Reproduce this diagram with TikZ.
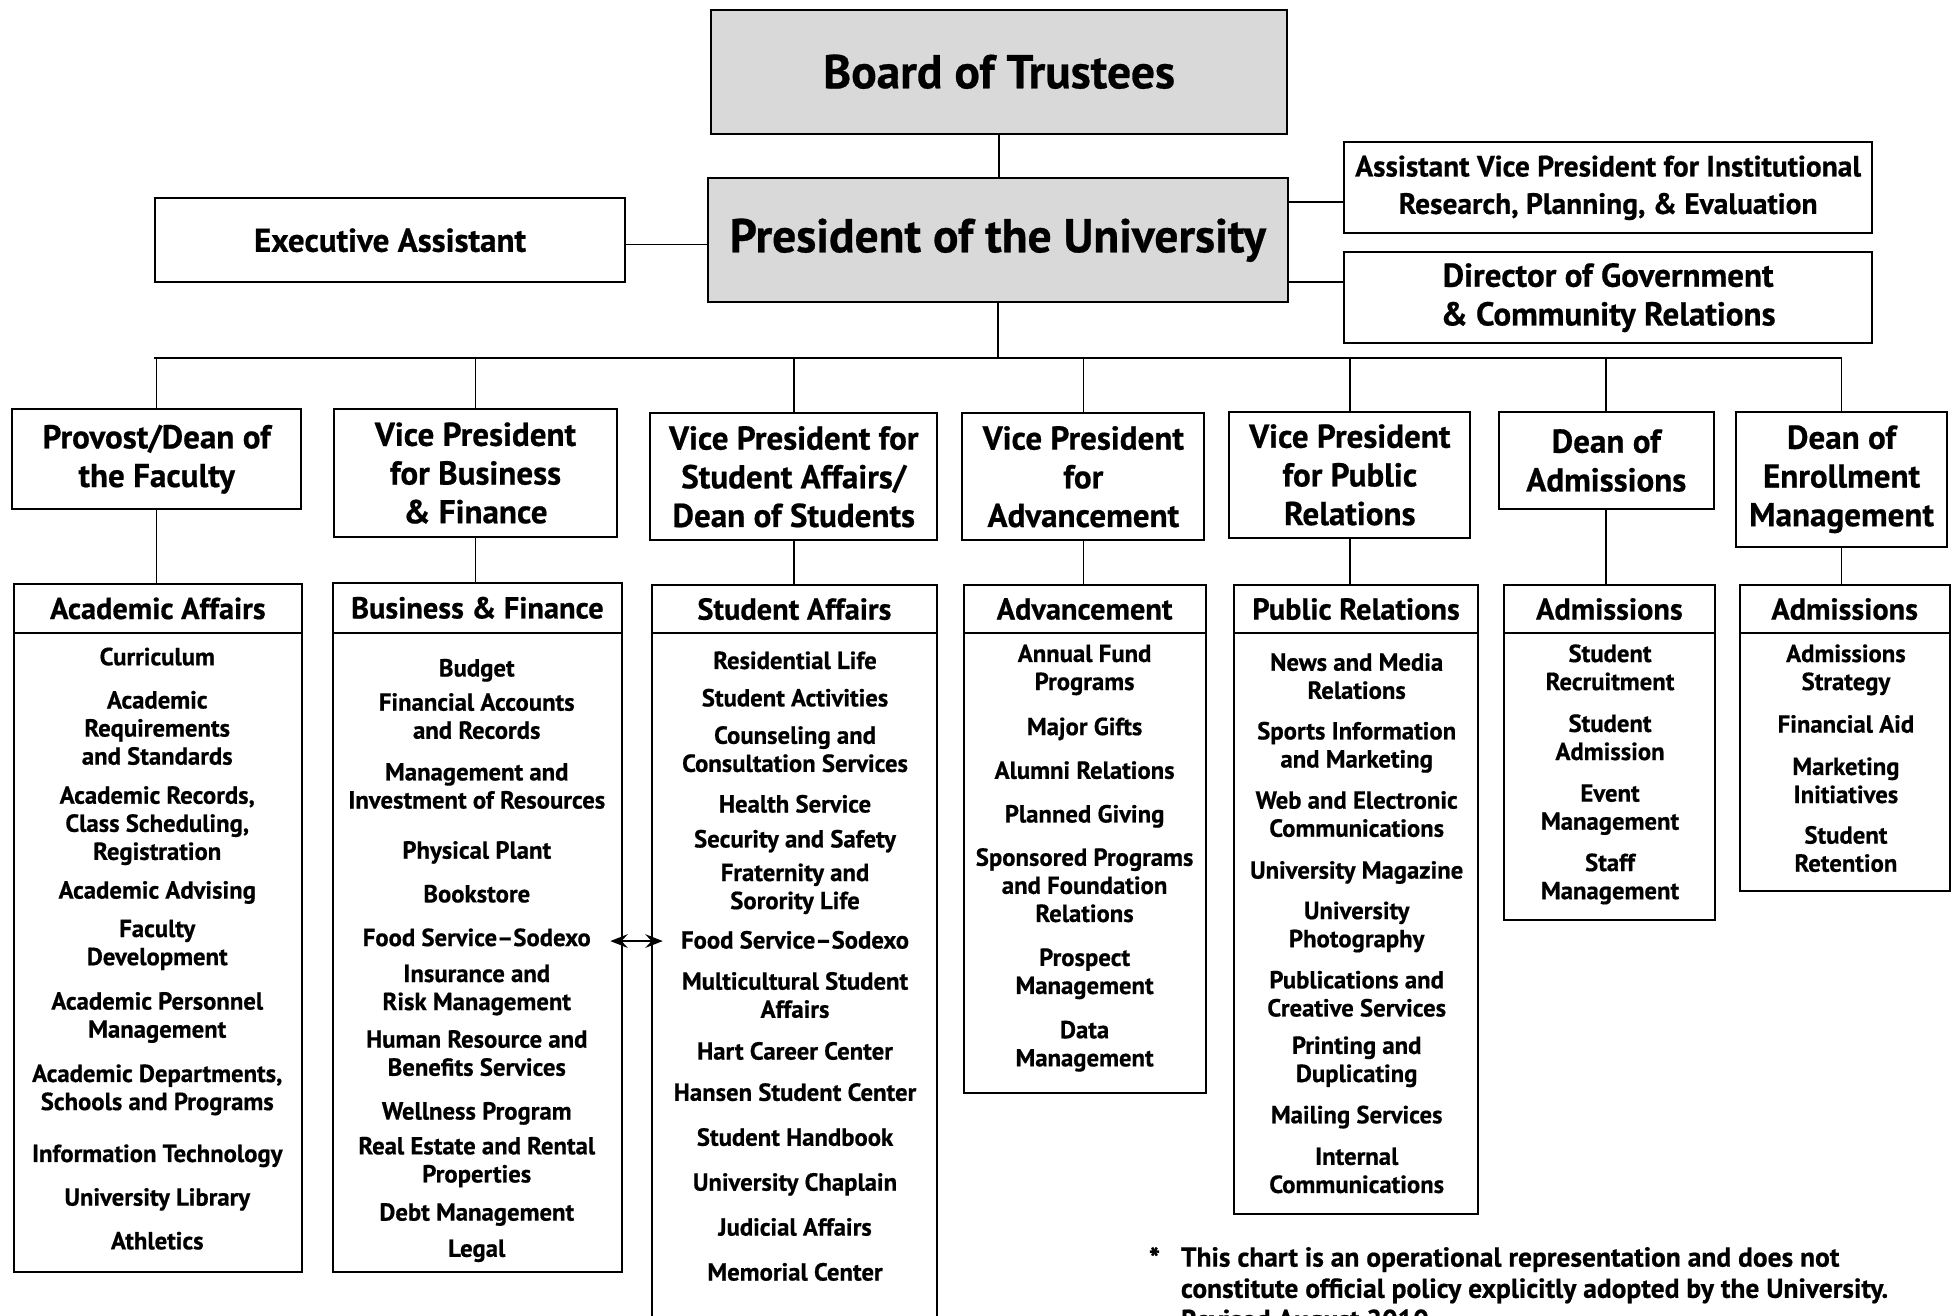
\documentclass[tikz,border=0pt]{standalone}
\usepackage{fontspec}
\setmainfont{PT Sans}[BoldFeatures={FakeBold=0.6}]
\usetikzlibrary{arrows.meta}
\definecolor{boxgray}{HTML}{D9D9D9}
\newcommand\itm[4]{\node[item] (#1) at (#2,#3) {#4};}
\begin{document}
\begin{tikzpicture}[x=1pt,y=-1pt,
  box/.style={draw, line width=1.6pt, inner sep=0pt, fill=white, align=center},
  gbox/.style={box, fill=boxgray},
  conn/.style={line width=1.3pt},
  bus/.style={line width=1.8pt},
  item/.style={font=\fontsize{19.8}{22.5}\selectfont\bfseries, align=center, inner sep=0pt, yshift=-2.5pt,
     execute at begin node=\strut, execute at end node=\strut},
  bigf/.style={font=\fontsize{38}{40}\selectfont\bfseries},
  topf/.style={font=\fontsize{26.5}{31}\selectfont\bfseries},
  headf/.style={font=\fontsize{24.3}{28}\selectfont\bfseries},
  dbl/.style={line width=1.4pt, {Stealth[length=14pt,width=11pt,inset=5pt]}-{Stealth[length=14pt,width=11pt,inset=5pt]}}
]
\useasboundingbox[fill=white] (0,0) rectangle (1568,1054);

% top
\node[gbox, bigf, minimum width=461pt, minimum height=99pt] (board) at (800.5,57.5) {Board of Trustees};
\node[gbox, bigf, minimum width=465pt, minimum height=99pt] (pres) at (799.5,192.5) {President of the University};
\node[box, font=\fontsize{26.5}{31}\selectfont\bfseries, minimum width=377pt, minimum height=67pt] (exec) at (312.5,192.5) {Executive Assistant};
\node[box, font=\fontsize{23.6}{30}\selectfont\bfseries, minimum width=423pt, minimum height=73pt] (avp) at (1288.5,150.5) {Assistant Vice President for Institutional\\Research, Planning, \& Evaluation};
\node[box, font=\fontsize{26.5}{31}\selectfont\bfseries, minimum width=423pt, minimum height=73pt] (dir) at (1288.5,238.5) {Director of Government\\\& Community Relations};

\draw[conn] (board.south) -- (board.south |- pres.north);
\draw[conn] ([yshift=-3.5pt]exec.east) -- ([yshift=-3.5pt]exec.east -| pres.west);
\draw[conn] ([yshift=-11.5pt]avp.west) -- ([yshift=-11.5pt]avp.west -| pres.east);
\draw[conn] ([yshift=12.5pt]dir.west) -- ([yshift=12.5pt]dir.west -| pres.east);

\coordinate (busL) at (123,287);
\coordinate (busR) at (1476,287);
\draw[conn] (pres.south) -- (pres.south |- busL);
\draw[bus] (busL) -- (busR);

% second level
\node[box, topf, minimum width=231pt, minimum height=80pt] (t1) at (125.5,368) {Provost/Dean of\\the Faculty};
\node[box, topf, minimum width=226pt, minimum height=102pt] (t2) at (381,379) {Vice President\\for Business\\\& Finance};
\node[box, topf, minimum width=230pt, minimum height=102pt] (t3) at (636,382) {Vice President for\\Student Affairs/\\Dean of Students};
\node[box, topf, minimum width=194pt, minimum height=102pt] (t4) at (868,382) {Vice President\\for\\Advancement};
\node[box, topf, minimum width=193pt, minimum height=101pt] (t5) at (1081.5,380.5) {Vice President\\for Public\\Relations};
\node[box, topf, minimum width=172pt, minimum height=78pt] (t6) at (1287,369) {Dean of\\Admissions};
\node[box, topf, minimum width=169pt, minimum height=108pt] (t7) at (1475.5,384) {Dean of\\Enrollment\\Management};

\foreach \t in {t1,t2,t3,t4,t5,t6,t7}{\draw[conn] (\t.north |- busL) -- (\t.north);}

% third level boxes
\node[box, minimum width=231pt, minimum height=512pt] (b1) at (126.5,763) {};
\node[box, minimum width=231pt, minimum height=512pt] (b2) at (382.5,763) {};
\node[box, minimum width=229pt, minimum height=563pt] (b3) at (636.5,788.5) {};
\node[box, minimum width=194pt, minimum height=369pt] (b4) at (869,691.5) {};
\node[box, minimum width=195pt, minimum height=466pt] (b5) at (1086.5,740) {};
\node[box, minimum width=169pt, minimum height=230pt] (b6) at (1289.5,622) {};
\node[box, minimum width=168pt, minimum height=207pt] (b7) at (1478,610.5) {};

\node[box, headf, minimum width=231pt, minimum height=39pt] (h1) at (126.5,487.5) {Academic Affairs};
\node[box, headf, minimum width=231pt, minimum height=40pt] (h2) at (382.5,487) {Business \& Finance};
\node[box, headf, minimum width=229pt, minimum height=38pt] (h3) at (636.5,488) {Student Affairs};
\node[box, headf, minimum width=194pt, minimum height=38pt] (h4) at (869,488) {Advancement};
\node[box, headf, minimum width=195pt, minimum height=38pt] (h5) at (1086.5,488) {Public Relations};
\node[box, headf, minimum width=169pt, minimum height=38pt] (h6) at (1289.5,488) {Admissions};
\node[box, headf, minimum width=168pt, minimum height=38pt] (h7) at (1478,488) {Admissions};

\foreach \i in {1,...,7}{\draw[conn] (t\i.south) -- (t\i.south |- h\i.north);}

% Academic Affairs
\itm{aa1}{126}{526}{Curriculum}
\itm{aa2}{126}{584}{Academic\\Requirements\\and Standards}
\itm{aa3}{126}{660.3}{Academic Records,\\Class Scheduling,\\Registration}
\itm{aa4}{126}{713}{Academic Advising}
\itm{aa5}{126}{756}{Faculty\\Development}
\itm{aa6}{126}{814}{Academic Personnel\\Management}
\itm{aa7}{126}{872}{Academic Departments,\\Schools and Programs}
\itm{aa8}{126}{924}{Information Technology}
\itm{aa9}{126}{959}{University Library}
\itm{aa10}{126}{994}{Athletics}

% Business & Finance
\itm{bf1}{382}{535}{Budget}
\itm{bf2}{382}{574.5}{Financial Accounts\\and Records}
\itm{bf3}{382}{630.5}{Management and\\Investment of Resources}
\itm{bf4}{382}{681}{Physical Plant}
\itm{bf5}{382}{716}{Bookstore}
\itm{bf6}{382}{751}{Food Service–Sodexo}
\itm{bf7}{382}{792}{Insurance and\\Risk Management}
\itm{bf8}{382}{844.5}{Human Resource and\\Benefits Services}
\itm{bf9}{382}{890}{Wellness Program}
\itm{bf10}{382}{930}{Real Estate and Rental\\Properties}
\itm{bf11}{382}{971}{Debt Management}
\itm{bf12}{382}{1000}{Legal}

% Student Affairs
\itm{sa1}{637}{529}{Residential Life}
\itm{sa2}{637}{559}{Student Activities}
\itm{sa3}{637}{601}{Counseling and\\Consultation Services}
\itm{sa4}{637}{644}{Health Service}
\itm{sa5}{637}{672}{Security and Safety}
\itm{sa6}{637}{711}{Fraternity and\\Sorority Life}
\itm{sa7}{637}{753}{Food Service–Sodexo}
\itm{sa8}{637}{798}{Multicultural Student\\Affairs}
\itm{sa9}{637}{842}{Hart Career Center}
\itm{sa10}{637}{875}{Hansen Student Center}
\itm{sa11}{637}{911}{Student Handbook}
\itm{sa12}{637}{947}{University Chaplain}
\itm{sa13}{637}{983}{Judicial Affairs}
\itm{sa14}{637}{1019}{Memorial Center}

% Advancement
\itm{ad1}{869}{535.5}{Annual Fund\\Programs}
\itm{ad2}{869}{582}{Major Gifts}
\itm{ad3}{869}{617}{Alumni Relations}
\itm{ad4}{869}{652}{Planned Giving}
\itm{ad5}{869}{710}{Sponsored Programs\\and Foundation\\Relations}
\itm{ad6}{869}{779}{Prospect\\Management}
\itm{ad7}{869}{837}{Data\\Management}

% Public Relations
\itm{pr1}{1087}{542.5}{News and Media\\Relations}
\itm{pr2}{1087}{597.5}{Sports Information\\and Marketing}
\itm{pr3}{1087}{653}{Web and Electronic\\Communications}
\itm{pr4}{1087}{697}{University Magazine}
\itm{pr5}{1087}{741.5}{University\\Photography}
\itm{pr6}{1087}{797}{Publications and\\Creative Services}
\itm{pr7}{1087}{849.5}{Printing and\\Duplicating}
\itm{pr8}{1087}{893}{Mailing Services}
\itm{pr9}{1087}{938.5}{Internal\\Communications}

% Admissions
\itm{am1}{1290}{535.5}{Student\\Recruitment}
\itm{am2}{1290}{591.5}{Student\\Admission}
\itm{am3}{1290}{647.5}{Event\\Management}
\itm{am4}{1290}{703}{Staff\\Management}

% Admissions (enrollment)
\itm{en1}{1479}{535.5}{Admissions\\Strategy}
\itm{en2}{1479}{580}{Financial Aid}
\itm{en3}{1479}{626}{Marketing\\Initiatives}
\itm{en4}{1479}{681}{Student\\Retention}

% food service link
\coordinate (arL) at (489,754);
\coordinate (arR) at (531,754);
\draw[dbl] (arL) -- (arR);

% footnote
\node[font=\fontsize{24}{25}\selectfont\bfseries, inner sep=0pt] (star) at (925,1008) {*};
\node[font=\fontsize{22}{25}\selectfont\bfseries, align=left, anchor=north west, inner sep=0pt,
  execute at begin node=\strut] (fn) at (946,999)
  {This chart is an operational representation and does not\\constitute official policy explicitly adopted by the University.\\Revised August 2010};
\end{tikzpicture}
\end{document}
